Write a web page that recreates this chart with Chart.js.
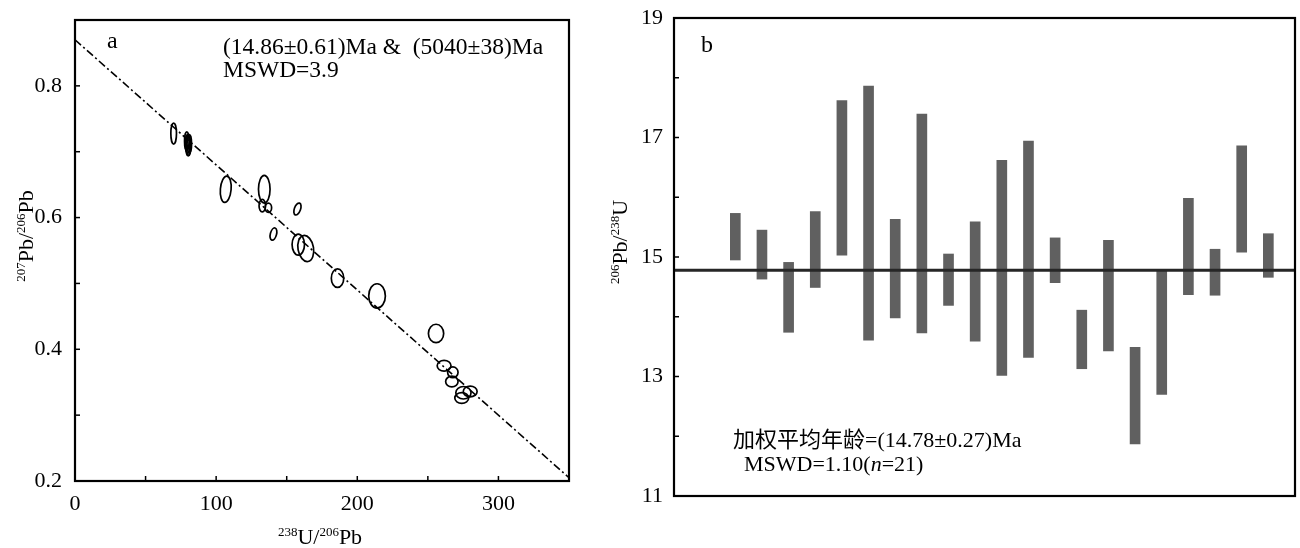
<!DOCTYPE html>
<html>
<head>
<meta charset="utf-8">
<script src="https://cdn.jsdelivr.net/npm/chart.js@4.4.0/dist/chart.umd.min.js"></script>
<style>
  body { margin: 0; background: #fff; width: 1300px; height: 548px; overflow: hidden; position: relative; }
  canvas { position: absolute; top: 0; }
  #ca { left: 0; }
  #cb { left: 590px; }
</style>
</head>
<body>
<canvas id="ca" width="590" height="548"></canvas>
<canvas id="cb" width="710" height="548"></canvas>
<script>
// ---- panel a : Tera-Wasserburg, ellipse centres and half axes ----
const twX   = [69.9, 79.2, 79.8, 80.4, 81.0, 80.1, 106.8, 134.1, 132.7, 137.0, 157.6, 140.6, 158.2, 163.5, 186.0, 214.0, 255.8, 261.5, 267.7, 267.0, 275.2, 274.0, 280.0];
const twY   = [0.7275, 0.716, 0.712, 0.708, 0.712, 0.710, 0.643, 0.643, 0.618, 0.615, 0.613, 0.575, 0.559, 0.553, 0.508, 0.481, 0.424, 0.375, 0.365, 0.351, 0.334, 0.326, 0.336];
const twSX  = [2.0, 1.6, 1.6, 1.6, 1.6, 1.6, 3.8, 4.1, 2.3, 2.3, 2.2, 2.2, 4.4, 5.5, 4.4, 5.9, 5.4, 4.9, 3.7, 4.4, 5.4, 4.9, 4.9];
const twSY  = [0.016, 0.014, 0.014, 0.014, 0.014, 0.016, 0.020, 0.021, 0.0095, 0.007, 0.0095, 0.0095, 0.016, 0.020, 0.014, 0.0185, 0.014, 0.0082, 0.0082, 0.0082, 0.0095, 0.0082, 0.0082];
const twRot = [0, 0, 0, 0, 0, 0, 5, 0, 0, 0, 20, 15, 0, -10, 0, 0, 0, 0, 0, 0, 0, 0, 0];
// discordia line end points
const fitX = [0, 350];
const fitY = [0.87, 0.205];

// ---- panel b : 206Pb/238U ages ----
const spotNo = [1, 2, 3, 4, 5, 6, 7, 8, 9, 10, 11, 12, 13, 14, 15, 16, 17, 18, 19, 20, 21];
const ageLo  = [14.95, 14.63, 13.74, 14.49, 15.03, 13.61, 13.98, 13.73, 14.19, 13.59, 13.02, 13.32, 14.57, 13.13, 13.43, 11.87, 12.70, 14.37, 14.36, 15.08, 14.66];
const ageHi  = [15.73, 15.45, 14.91, 15.76, 17.62, 17.86, 15.63, 17.39, 15.05, 15.59, 16.62, 16.94, 15.32, 14.11, 15.28, 13.49, 14.77, 15.98, 15.13, 16.86, 15.39];
const meanAge = 14.78;
const spotMin = -1.3, spotMax = 22;

const SERIF = "'Liberation Serif', 'Times New Roman', serif";

// draws text made of pieces: [text, size, raise, italic, family]
function rich(ctx, parts, x, y, align, rot) {
  ctx.save();
  ctx.translate(x, y);
  if (rot) ctx.rotate(rot);
  ctx.fillStyle = '#000';
  ctx.textBaseline = 'alphabetic';
  const font = p => (p[3] ? 'italic ' : '') + p[1] + 'px ' + (p[4] || SERIF);
  let w = 0;
  parts.forEach(p => { ctx.font = font(p); w += ctx.measureText(p[0]).width; });
  let cx = align === 'center' ? -w / 2 : 0;
  parts.forEach(p => {
    ctx.font = font(p);
    ctx.fillText(p[0], cx, -(p[2] || 0));
    cx += ctx.measureText(p[0]).width;
  });
  ctx.restore();
}

// frame and inward ticks
const frameTicks = {
  id: 'frameTicks',
  afterDraw(chart) {
    const { ctx, chartArea: a } = chart;
    ctx.save();
    ctx.strokeStyle = '#000';
    ctx.lineWidth = 1.5;
    ['x', 'y'].forEach(id => {
      const s = chart.scales[id];
      if (!s.options.display) return;
      s.ticks.forEach(t => {
        const p = s.getPixelForValue(t.value);
        ctx.beginPath();
        if (id === 'x') { ctx.moveTo(p, a.bottom); ctx.lineTo(p, a.bottom - 5); }
        else { ctx.moveTo(a.left, p); ctx.lineTo(a.left + 5, p); }
        ctx.stroke();
      });
    });
    ctx.lineWidth = 2.2;
    ctx.strokeRect(a.left, a.top, a.right - a.left, a.bottom - a.top);
    ctx.restore();
  }
};

const ellipses = {
  id: 'ellipses',
  afterDatasetsDraw(chart) {
    const { ctx } = chart;
    const sx = chart.scales.x, sy = chart.scales.y;
    ctx.save();
    ctx.strokeStyle = '#000';
    ctx.lineWidth = 1.7;
    twX.forEach((x, i) => {
      const px = sx.getPixelForValue(x), py = sy.getPixelForValue(twY[i]);
      const rx = Math.abs(sx.getPixelForValue(x + twSX[i]) - px);
      const ry = Math.abs(sy.getPixelForValue(twY[i] + twSY[i]) - py);
      ctx.beginPath();
      ctx.ellipse(px, py, rx, ry, twRot[i] * Math.PI / 180, 0, Math.PI * 2);
      ctx.stroke();
    });
    ctx.restore();
  }
};

const labelsA = {
  id: 'labelsA',
  afterDraw(chart) {
    const ctx = chart.ctx;
    rich(ctx, [['a', 24]], 107, 48, 'left');
    rich(ctx, [['(14.86\u00b10.61)Ma &  (5040\u00b138)Ma', 23.5]], 223, 53.5, 'left');
    rich(ctx, [['MSWD=3.9', 23.5]], 223, 77, 'left');
    rich(ctx, [['238', 13, 8], ['U/', 22], ['206', 13, 8], ['Pb', 22]], 320, 544, 'center');
    rich(ctx, [['207', 13, 8], ['Pb/', 22], ['206', 13, 8], ['Pb', 22]], 33, 236, 'center', -Math.PI / 2);
  }
};

const labelsB = {
  id: 'labelsB',
  afterDraw(chart) {
    const ctx = chart.ctx;
    const o = 590;
    rich(ctx, [['b', 24]], 701 - o, 52, 'left');
    rich(ctx, [['\u52a0\u6743\u5e73\u5747\u5e74\u9f84', 22, 0, false, "'Noto Sans CJK SC', sans-serif"], ['=(14.78\u00b10.27)Ma', 22]], 733 - o, 446.5, 'left');
    rich(ctx, [['MSWD=1.10(', 22], ['n', 22, 0, true], ['=21)', 22]], 744 - o, 470.5, 'left');
    rich(ctx, [['206', 13, 8], ['Pb/', 22], ['238', 13, 8], ['U', 22]], 627 - o, 242, 'center', -Math.PI / 2);
  }
};

const tickFont = { family: SERIF, size: 22 };
const noPad = s => { s.paddingTop = 0; s.paddingBottom = 0; s.paddingLeft = 0; s.paddingRight = 0; };

new Chart(document.getElementById('ca'), {
  type: 'scatter',
  data: {
    datasets: [{
      type: 'line',
      data: fitX.map((x, i) => ({ x, y: fitY[i] })),
      borderColor: '#000',
      borderWidth: 1.6,
      borderDash: [8, 3, 2, 3],
      pointRadius: 0,
      fill: false
    }]
  },
  options: {
    responsive: false,
    animation: false,
    layout: { padding: { top: 20, right: 21, bottom: 0, left: 0 } },
    plugins: { legend: { display: false }, tooltip: { enabled: false } },
    scales: {
      x: {
        type: 'linear', min: 0, max: 350,
        grid: { display: false, drawTicks: false },
        border: { display: false },
        ticks: { stepSize: 50, padding: 10, color: '#000', font: tickFont, maxRotation: 0,
                 callback: v => (v % 100 === 0 && v < 350) ? v : '' },
        afterFit: s => { s.height = 67; noPad(s); }
      },
      y: {
        type: 'linear', min: 0.2, max: 0.9,
        grid: { display: false, drawTicks: false },
        border: { display: false },
        ticks: { stepSize: 0.1, padding: 13, color: '#000', font: tickFont,
                 callback: v => (Math.round(v * 10) % 2 === 0) ? v.toFixed(1) : '' },
        afterFit: s => { s.width = 75; noPad(s); }
      }
    }
  },
  plugins: [ellipses, frameTicks, labelsA]
});

new Chart(document.getElementById('cb'), {
  type: 'bar',
  data: {
    datasets: [{
      type: 'line',
      order: 0,
      data: [{ x: spotMin, y: meanAge }, { x: spotMax, y: meanAge }],
      borderColor: '#262626',
      borderWidth: 3,
      pointRadius: 0
    }, {
      type: 'bar',
      order: 1,
      data: spotNo.map((x, i) => ({ x, y: [ageLo[i], ageHi[i]] })),
      backgroundColor: '#606060',
      borderWidth: 0,
      barThickness: 10
    }]
  },
  options: {
    responsive: false,
    animation: false,
    layout: { padding: { top: 18, right: 5, bottom: 52, left: 0 } },
    plugins: { legend: { display: false }, tooltip: { enabled: false } },
    scales: {
      x: { type: 'linear', min: spotMin, max: spotMax, offset: false, display: false },
      y: {
        type: 'linear', min: 11, max: 19,
        grid: { display: false, drawTicks: false },
        border: { display: false },
        ticks: { stepSize: 1, padding: 11, color: '#000', font: tickFont,
                 callback: v => (v % 2 === 1) ? v : '' },
        afterFit: s => { s.width = 84; noPad(s); }
      }
    }
  },
  plugins: [frameTicks, labelsB]
});
</script>
</body>
</html>
